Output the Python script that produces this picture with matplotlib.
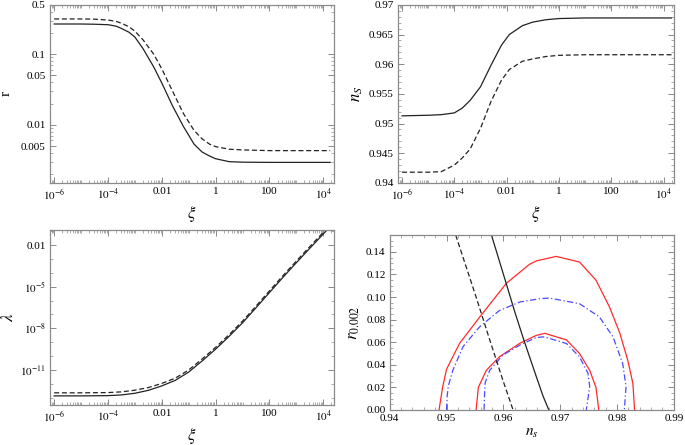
import matplotlib
matplotlib.use("Agg")
import matplotlib.pyplot as plt
import numpy as np
from matplotlib.ticker import FixedLocator, FixedFormatter, LogLocator, MultipleLocator, NullFormatter

plt.rcParams['font.family'] = ['Liberation Serif', 'DejaVu Serif']
plt.rcParams['mathtext.fontset'] = 'stix'

# r vs xi
xi_r = [1e-6, 1e-5, 3.16e-5, 1e-4, 2e-4, 3.16e-4, 6e-4, 1e-3, 2e-3, 5e-3, 1e-2, 2.5e-2,
        6.3e-2, 0.158, 0.316, 0.6, 1, 3.16, 10, 100, 1000, 1.8e4]
r_solid = [0.268, 0.268, 0.266, 0.262, 0.250, 0.232, 0.205, 0.175, 0.12, 0.066, 0.039,
           0.0185, 0.0095, 0.0053, 0.0041, 0.0036, 0.0033, 0.0030, 0.00295, 0.00293,
           0.00293, 0.00293]
r_dash = [0.316, 0.316, 0.314, 0.305, 0.292, 0.275, 0.245, 0.212, 0.16, 0.10, 0.062,
          0.030, 0.0145, 0.0083, 0.0063, 0.0053, 0.0049, 0.0045, 0.0044, 0.0043,
          0.0043, 0.0043]

# n_s vs xi
xi_n = [1e-6, 1e-5, 3.16e-5, 1e-4, 2e-4, 4e-4, 1e-3, 2.5e-3, 6.3e-3, 1.26e-2,
        4e-2, 0.1, 0.316, 1, 10, 100, 1000, 2e4]
ns_solid = [0.9513, 0.9514, 0.9515, 0.9518, 0.9526, 0.9539, 0.9562, 0.9598, 0.9632,
            0.9650, 0.9665, 0.9671, 0.9675, 0.9677, 0.9678, 0.9678, 0.9678, 0.9678]
ns_dash = [0.9418, 0.9418, 0.9419, 0.9430, 0.9442, 0.9457, 0.9492, 0.9537, 0.9573,
           0.9591, 0.9605, 0.9609, 0.9613, 0.9615, 0.9616, 0.9616, 0.9616, 0.9616]

# lambda vs xi
xi_l = [1e-6, 1e-5, 1e-4, 3.16e-4, 1e-3, 3.16e-3, 1e-2, 3.16e-2, 0.1, 0.316,
        1, 3.16, 10, 31.6, 100, 316, 1000, 3162, 1e4, 2e4]
lam_solid = [1.35e-13, 1.35e-13, 1.41e-13, 1.58e-13, 2.09e-13, 3.39e-13, 7.08e-13,
             1.78e-12, 7.08e-12, 4.47e-11, 3.16e-10, 2.63e-9, 2.51e-8, 3.02e-7,
             3.80e-6, 4.68e-5, 5.37e-4, 5.89e-3, 0.063, 0.263]
lam_dash = [2.24e-13, 2.24e-13, 2.34e-13, 2.63e-13, 3.47e-13, 5.37e-13, 1.07e-12,
            2.57e-12, 1.0e-11, 6.17e-11, 4.27e-10, 3.47e-9, 3.31e-8, 3.98e-7,
            5.01e-6, 6.17e-5, 7.08e-4, 7.76e-3, 0.083, 0.347]

# contours in (n_s, r)
red_out_n = [0.94868, 0.9493, 0.9500, 0.9523, 0.9558, 0.9605, 0.9646, 0.9658, 0.9693,
             0.9734, 0.9763, 0.9787, 0.9805, 0.9819, 0.9828, 0.9831]
red_out_r = [0.0, 0.020, 0.036, 0.059, 0.082, 0.112, 0.129, 0.132, 0.136,
             0.131, 0.115, 0.091, 0.068, 0.044, 0.0235, 0.0]
red_in_n = [0.9552, 0.9556, 0.9570, 0.9593, 0.9629, 0.9658, 0.9673, 0.9711, 0.9734,
            0.9752, 0.9763, 0.9768]
red_in_r = [0.0, 0.020, 0.035, 0.047, 0.059, 0.066, 0.0678, 0.062, 0.050,
            0.035, 0.020, 0.0]
blue_out_n = [0.9500, 0.9501, 0.9503, 0.9511, 0.9529, 0.9558, 0.9593, 0.9629, 0.9664,
              0.9681, 0.9734, 0.9769, 0.9793, 0.9810, 0.9816, 0.9813]
blue_out_r = [0.0, 0.012, 0.021, 0.035, 0.056, 0.0735, 0.088, 0.0956, 0.0985,
              0.0991, 0.0941, 0.0824, 0.0647, 0.0412, 0.0206, 0.0]
blue_in_n = [0.9566, 0.9567, 0.9568, 0.9576, 0.9599, 0.9629, 0.9658, 0.9672, 0.9711,
             0.9734, 0.9749, 0.9752, 0.9746]
blue_in_r = [0.0, 0.015, 0.024, 0.035, 0.0485, 0.0574, 0.0641, 0.0647, 0.0588,
             0.047, 0.0324, 0.0206, 0.0]
pred_solid_n = [0.9579, 0.9605, 0.9620, 0.9636, 0.9658, 0.9670, 0.9680]
pred_solid_r = [0.155, 0.112, 0.087, 0.062, 0.0294, 0.012, 0.0]
pred_dash_n = [0.9516, 0.9552, 0.9576, 0.9599, 0.9617]
pred_dash_r = [0.155, 0.100, 0.062, 0.0265, 0.0]

xi_ticks = [1e-6, 1e-4, 1e-2, 1, 100, 1e4]
xi_labels = ['$10^{-6}$', '$10^{-4}$', '0.01', '1', '100', '$10^{4}$']

spine_c = '#8a8a8a'
line_c = '#222222'
dash = (0, (4, 2.2))

fig = plt.figure(figsize=(6.85, 4.45), dpi=100)
ax1 = fig.add_axes([0.073, 0.589, 0.4146, 0.400])
ax2 = fig.add_axes([0.581, 0.589, 0.403, 0.400])
ax3 = fig.add_axes([0.073, 0.090, 0.4146, 0.393])
ax4 = fig.add_axes([0.569, 0.079, 0.4146, 0.393])


def style(ax):
    for s in ax.spines.values():
        s.set_color(spine_c)
        s.set_linewidth(0.9)
    ax.tick_params(which='both', direction='in', top=True, right=True,
                   color=spine_c, labelsize=8, pad=3)
    ax.tick_params(which='major', length=4, width=0.7)
    ax.tick_params(which='minor', length=2, width=0.5)


def xi_axis(ax):
    ax.set_xscale('log')
    ax.set_xlim(7e-7, 2.5e4)
    ax.xaxis.set_major_locator(FixedLocator(xi_ticks))
    ax.xaxis.set_major_formatter(FixedFormatter(xi_labels))
    ax.xaxis.set_minor_locator(LogLocator(base=10, subs=np.arange(1, 10), numticks=40))
    ax.xaxis.set_minor_formatter(NullFormatter())
    ax.set_xlabel(r'$\xi$', fontsize=12, labelpad=1)


# top left: r
ax1.plot(xi_r, r_solid, color=line_c, lw=0.9)
ax1.plot(xi_r, r_dash, color=line_c, lw=0.9, ls=dash)
xi_axis(ax1)
ax1.set_yscale('log')
ax1.set_ylim(0.0015, 0.5)
ax1.yaxis.set_major_locator(FixedLocator([0.005, 0.01, 0.05, 0.1, 0.5]))
ax1.yaxis.set_major_formatter(FixedFormatter(['0.005', '0.01', '0.05', '0.1', '0.5']))
ax1.yaxis.set_minor_locator(LogLocator(base=10, subs=np.arange(1, 10), numticks=20))
ax1.yaxis.set_minor_formatter(NullFormatter())
ax1.set_ylabel('r', fontsize=11, labelpad=6)
style(ax1)

# top right: n_s
ax2.plot(xi_n, ns_solid, color=line_c, lw=0.9)
ax2.plot(xi_n, ns_dash, color=line_c, lw=0.9, ls=dash)
xi_axis(ax2)
ax2.set_ylim(0.94, 0.97)
ax2.yaxis.set_major_locator(MultipleLocator(0.005))
ax2.yaxis.set_minor_locator(MultipleLocator(0.001))
ax2.yaxis.set_major_formatter(plt.FuncFormatter(lambda v, p: ('%.3f' % v).rstrip('0')))
ax2.set_ylabel('$n_S$', fontsize=12, labelpad=3)
style(ax2)

# bottom left: lambda
ax3.plot(xi_l, lam_solid, color=line_c, lw=0.9)
ax3.plot(xi_l, lam_dash, color=line_c, lw=0.9, ls=dash)
xi_axis(ax3)
ax3.set_yscale('log')
ax3.set_ylim(3e-14, 0.12)
ax3.yaxis.set_major_locator(FixedLocator([1e-11, 1e-8, 1e-5, 1e-2]))
ax3.yaxis.set_major_formatter(FixedFormatter(['$10^{-11}$', '$10^{-8}$', '$10^{-5}$', '0.01']))
ax3.yaxis.set_minor_locator(LogLocator(base=10, subs=[1.0], numticks=30))
ax3.yaxis.set_minor_formatter(NullFormatter())
ax3.set_ylabel(r'$\lambda$', fontsize=12, labelpad=2)
style(ax3)

# bottom right: contours
ax4.plot(red_out_n, red_out_r, color='#ff2a2a', lw=0.9)
ax4.plot(red_in_n, red_in_r, color='#ff2a2a', lw=0.9)
ax4.plot(blue_out_n, blue_out_r, color='#4a4aff', lw=0.9, ls=(0, (5, 2, 1, 2)))
ax4.plot(blue_in_n, blue_in_r, color='#4a4aff', lw=0.9, ls=(0, (5, 2, 1, 2)))
ax4.plot(pred_solid_n, pred_solid_r, color=line_c, lw=0.9)
ax4.plot(pred_dash_n, pred_dash_r, color=line_c, lw=0.9, ls=dash)
ax4.set_xlim(0.94, 0.99)
ax4.set_ylim(0, 0.155)
ax4.xaxis.set_major_locator(MultipleLocator(0.01))
ax4.xaxis.set_minor_locator(MultipleLocator(0.002))
ax4.xaxis.set_major_formatter(plt.FuncFormatter(lambda v, p: '%.2f' % v))
ax4.yaxis.set_major_locator(MultipleLocator(0.02))
ax4.yaxis.set_minor_locator(MultipleLocator(0.005))
ax4.yaxis.set_major_formatter(plt.FuncFormatter(lambda v, p: '%.2f' % v))
ax4.set_xlabel('$n_s$', fontsize=11, labelpad=3)
ax4.set_ylabel('$r_{0.002}$', fontsize=12, labelpad=3)
style(ax4)

fig.savefig('out.png', dpi=100)
